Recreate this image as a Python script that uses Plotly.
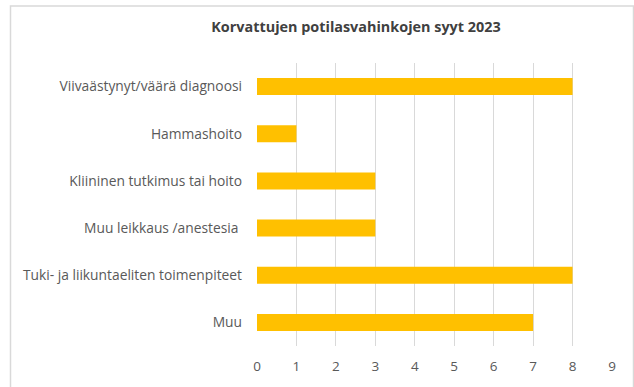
import plotly.graph_objects as go

categories = [
    "Viivaästynyt/väärä diagnoosi",
    "Hammashoito",
    "Kliininen tutkimus tai hoito",
    "Muu leikkaus /anestesia ",
    "Tuki- ja liikuntaeliten toimenpiteet",
    "Muu",
]
values = [8, 1, 3, 3, 8, 7]
tick_vals = list(range(0, 10))
title_text = "Korvattujen potilasvahinkojen syyt 2023"

W, H = 634, 387
L, R, T, B = 257, 22, 63, 39
pw, ph = W - L - R, H - T - B

def px_to_paper_x(px):
    return (px - L) / pw

def px_to_paper_y(py):
    return (H - B - py) / ph

fig = go.Figure(
    go.Bar(
        x=values,
        y=categories,
        orientation="h",
        marker=dict(color="#FFC000", line=dict(width=0)),
        hoverinfo="x+y",
    )
)

font_fam = "Open Sans, Liberation Sans, sans-serif"

fig.update_layout(
    width=W,
    height=H,
    margin=dict(l=L, r=R, t=T, b=B, pad=0),
    paper_bgcolor="white",
    plot_bgcolor="white",
    bargap=0.64,
    showlegend=False,
    font=dict(family=font_fam, color="#595959", size=13.8),
    title=dict(
        text="<b>" + title_text + "</b>",
        x=px_to_paper_x(356),
        xref="paper",
        xanchor="center",
        y=1 - 27 / H,
        yref="container",
        yanchor="middle",
        font=dict(family=font_fam, size=14.4, color="#404040"),
    ),
    xaxis=dict(
        range=[0, 9],
        tickvals=tick_vals,
        showgrid=True,
        gridcolor="#D9D9D9",
        gridwidth=1,
        zeroline=False,
        showline=False,
        ticks="",
        ticklabelstandoff=10,
        tickfont=dict(size=13.5, color="#595959"),
        fixedrange=True,
    ),
    yaxis=dict(
        categoryorder="array",
        categoryarray=categories[::-1],
        autorange=True,
        showgrid=False,
        zeroline=False,
        showline=False,
        ticks="",
        ticklabelstandoff=14,
        tickfont=dict(size=13.8, color="#595959"),
        fixedrange=True,
    ),
    shapes=[
        dict(
            type="rect",
            xref="paper",
            yref="paper",
            x0=px_to_paper_x(10.5),
            x1=px_to_paper_x(633.5),
            y0=px_to_paper_y(400),
            y1=px_to_paper_y(5.5),
            line=dict(color="#D9D9D9", width=1.5),
            fillcolor="rgba(0,0,0,0)",
            layer="below",
        )
    ],
)

fig.write_html("out.html")
